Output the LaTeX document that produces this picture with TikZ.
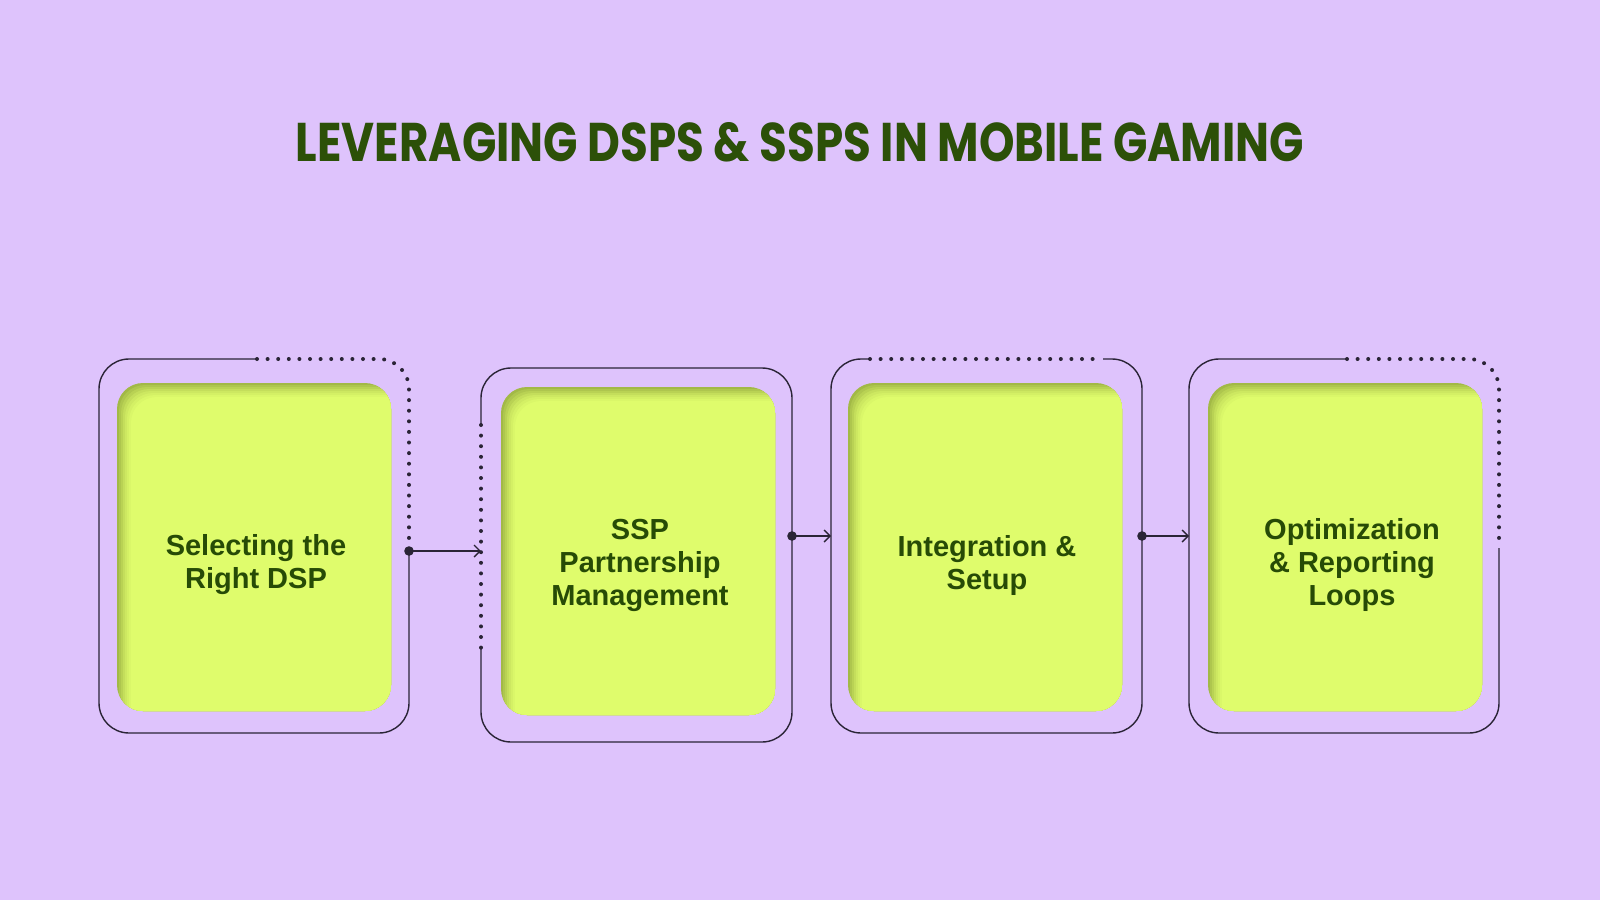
\documentclass[tikz,border=0pt]{standalone}
\usepackage{fontspec}
\setmainfont{Liberation Sans}
\newfontfamily\titlefont{Poppins}
\usetikzlibrary{arrows.meta}
\definecolor{bg}{HTML}{DEC3FC}
\definecolor{lime}{HTML}{DFFC6C}
\definecolor{gdark}{HTML}{A2B946}
\definecolor{ink}{HTML}{2A2436}
\definecolor{txt}{HTML}{274B06}
\definecolor{ttl}{HTML}{2C5008}
\newcommand\greenbox[4]{%
  \begin{scope}
    \clip[rounded corners=26pt] (#1,#2) rectangle (#3,#4);
    \fill[gdark] (#1,#2) rectangle (#3,#4);
    \foreach \d/\p in {2/20,4/38,6/55,8/70,10/82,12/92,14/100}{
      \fill[lime!\p!gdark, rounded corners=26pt] (#1+\d,#2+\d) rectangle (#3+40,#4+40);
    }
  \end{scope}}
\tikzset{
  frame/.style={draw=ink, line width=1.4pt, rounded corners=30pt},
  dots/.style={draw=ink, line width=4pt, line cap=round, dash pattern=on 0pt off 10.6pt, rounded corners=30pt},
  lbl/.style={text=txt, align=center, font=\fontsize{29}{33}\selectfont\bfseries},
  link/.style={draw=ink, line width=1.4pt, -{Straight Barb[length=6pt,width=12pt,line width=1.4pt]}},
  jdot/.style={fill=ink}
}
\begin{document}
\begin{tikzpicture}[x=1pt,y=-1pt]
\fill[bg] (0,0) rectangle (1600,900);
\useasboundingbox (0,0) rectangle (1600,900);

\node[text=ttl, inner sep=0pt, anchor=base] (title) at (800,161)
  {\resizebox{1008pt}{39pt}{\titlefont\bfseries LEVERAGING DSPS \& SSPS IN MOBILE GAMING}};

% green boxes
\greenbox{117}{383}{391}{711}
\greenbox{501}{387}{775}{715}
\greenbox{848}{383}{1122}{711}
\greenbox{1208}{383}{1482}{711}

% frames
\draw[frame] (409,551) -- (409,733) -- (99,733) -- (99,359) -- (257,359);
\draw[dots] (257,359) -- (409,359) -- (409,540);

\draw[frame] (481,425) -- (481,368) -- (792,368) -- (792,742) -- (481,742) -- (481,648);
\draw[dots] (481,425) -- (481,648);

\draw[frame] (870,359) -- (831,359) -- (831,733) -- (1142,733) -- (1142,359) -- (1103,359);
\draw[dots] (870,359) -- (1103,359);

\draw[frame] (1499,548) -- (1499,733) -- (1189,733) -- (1189,359) -- (1347,359);
\draw[dots] (1347,359) -- (1499,359) -- (1499,539);

% connectors
\coordinate (j1) at (409,551); \coordinate (e1) at (481,551);
\coordinate (j2) at (792,536); \coordinate (e2) at (831,536);
\coordinate (j3) at (1142,536); \coordinate (e3) at (1189,536);
\draw[link] (j1) -- (e1);
\draw[link] (j2) -- (e2);
\draw[link] (j3) -- (e3);
\fill[jdot] (j1) circle (4.8pt);
\fill[jdot] (j2) circle (4.8pt);
\fill[jdot] (j3) circle (4.8pt);

% labels
\node[lbl] (t1) at (256,565) {Selecting the\\Right DSP};
\node[lbl] (t2) at (640,565) {SSP\\Partnership\\Management};
\node[lbl] (t3) at (987,565) {Integration \&\\Setup};
\node[lbl] (t4) at (1352,565) {Optimization\\\& Reporting\\Loops};
\end{tikzpicture}
\end{document}
